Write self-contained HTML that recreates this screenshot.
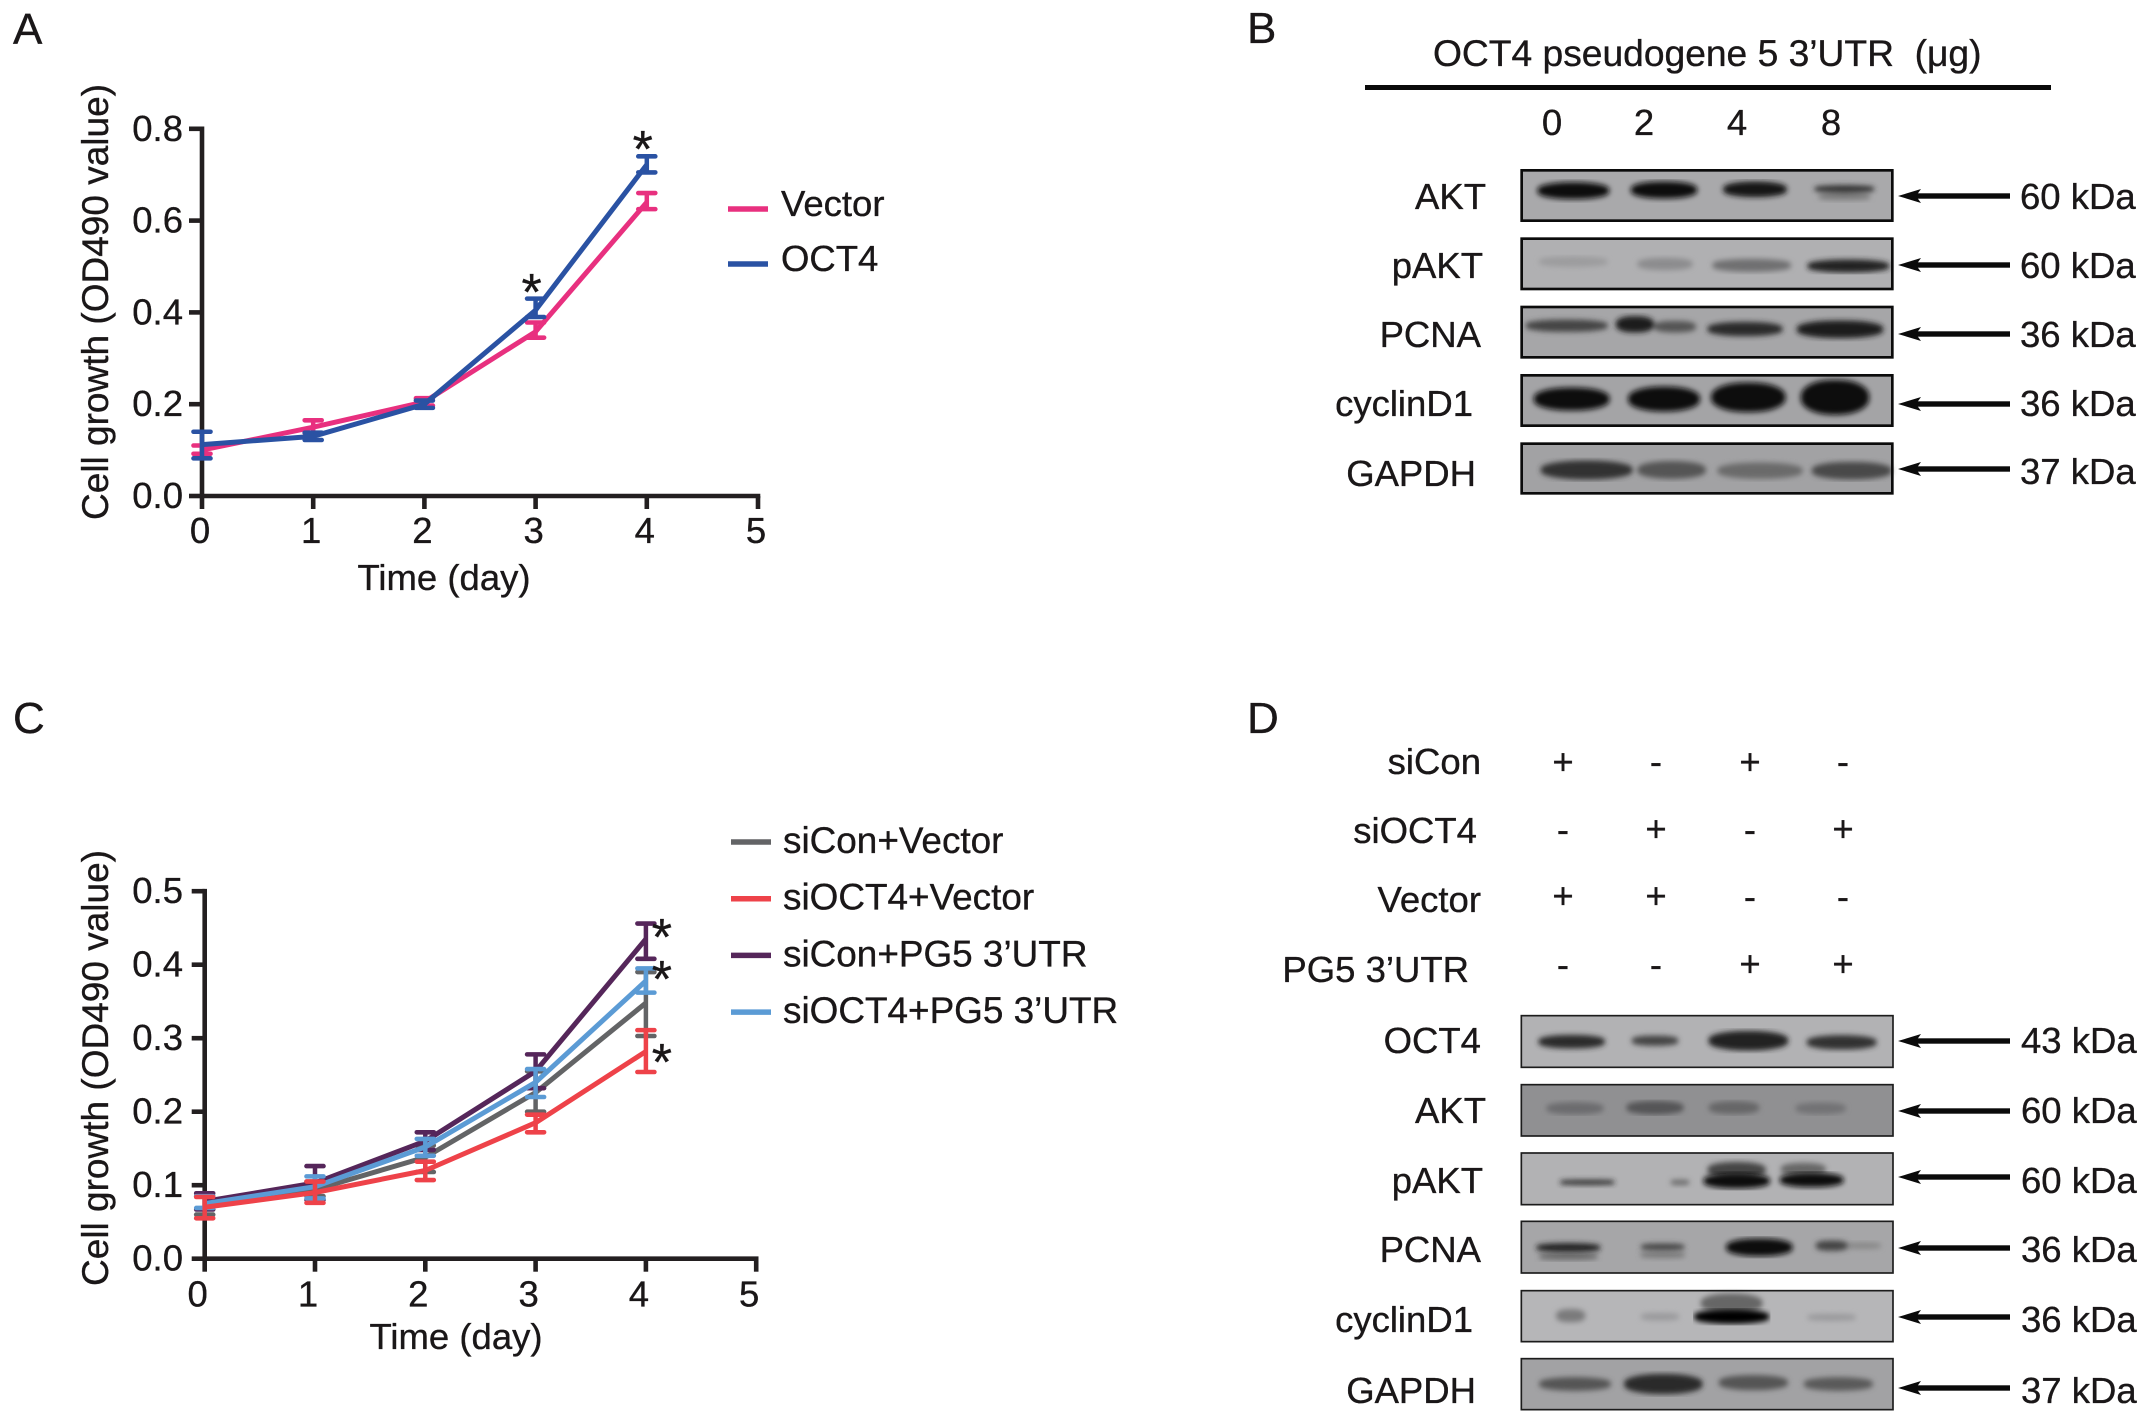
<!DOCTYPE html>
<html lang="en">
<head>
<meta charset="utf-8">
<title>Cell growth and western blot figure</title>
<style>
html,body{margin:0;padding:0;background:#fff;}
svg{display:block;}
text{font-family:"Liberation Sans",Arial,sans-serif;font-size:36.5px;fill:#1a1718;stroke:#1a1718;stroke-width:.35px;}
.panel{font-size:44px;}
.end{text-anchor:end;}
.mid{text-anchor:middle;}
.frame{fill:none;stroke:#0b0b0b;stroke-width:8;}
.frame-thin{fill:none;stroke:#1c1c1c;stroke-width:5;}
</style>
</head>
<body>
<svg id="fig" xmlns="http://www.w3.org/2000/svg" width="2150" height="1424" viewBox="0 0 2150 1424">
<defs>
<filter id="soft" x="-5%" y="-25%" width="110%" height="150%"><feMorphology operator="dilate" radius="8 5"/><feGaussianBlur stdDeviation="8"/></filter>
<g id="arrow"><rect x="1912" y="-2.7" width="98" height="5.4" fill="#0a0a0a"/><polygon points="1898,0 1921,-7 1916,0 1921,7" fill="#0a0a0a"/></g>
</defs>

<text class="panel" x="13" y="44">A</text>
<text class="panel" x="1247" y="43">B</text>
<text class="panel" x="13" y="733">C</text>
<text class="panel" x="1247" y="733">D</text>

<g id="chart-a"></g>
<g id="chart-c"></g>

<!-- Panel B -->
<g>
<text x="1433" y="66" style="font-size:37.2px" xml:space="preserve">OCT4 pseudogene 5 3’UTR  (μg)</text>
<rect x="1365" y="85" width="686" height="5" fill="#0a0a0a"/>
<text class="mid" x="1552" y="135">0</text>
<text class="mid" x="1644" y="135">2</text>
<text class="mid" x="1737" y="135">4</text>
<text class="mid" x="1831" y="135">8</text>

<text class="end" x="1486" y="209">AKT</text>
<text class="end" x="1483" y="278">pAKT</text>
<text class="end" x="1481" y="347">PCNA</text>
<text class="end" x="1473" y="416">cyclinD1</text>
<text class="end" x="1476" y="486">GAPDH</text>

<g transform="translate(1510,160) scale(.33333)">
 <g>
  <rect x="35" y="31" width="1112" height="151" fill="#a9a9ab"/>
  <g filter="url(#soft)"><ellipse cx="190" cy="92" rx="100" ry="21" fill="#0e0e0e"/><ellipse cx="462" cy="90" rx="92" ry="21" fill="#111"/><ellipse cx="735" cy="88" rx="88" ry="19" fill="#151515"/><ellipse cx="1003" cy="87" rx="82" ry="7" fill="#333"/><ellipse cx="1003" cy="110" rx="70" ry="6" fill="#7a7a7a"/></g>
  <rect class="frame" x="35" y="31" width="1112" height="151"/>
 </g>
 <g>
  <rect x="35" y="236" width="1112" height="151" fill="#b0b0b2"/>
  <g filter="url(#soft)"><ellipse cx="190" cy="305" rx="95" ry="11" fill="#9c9c9e"/><ellipse cx="465" cy="312" rx="75" ry="14" fill="#8c8c8e"/><ellipse cx="725" cy="316" rx="110" ry="15" fill="#6f6f71"/><ellipse cx="1015" cy="318" rx="115" ry="15" fill="#202020"/></g>
  <rect class="frame" x="35" y="236" width="1112" height="151"/>
 </g>
 <g>
  <rect x="35" y="441" width="1112" height="151" fill="#a6a6a8"/>
  <g filter="url(#soft)"><ellipse cx="170" cy="497" rx="115" ry="14" fill="#444"/><ellipse cx="495" cy="500" rx="55" ry="13" fill="#555"/><ellipse cx="375" cy="493" rx="50" ry="20" fill="#1e1e1e"/><ellipse cx="705" cy="507" rx="105" ry="17" fill="#2a2a2a"/><ellipse cx="990" cy="508" rx="122" ry="22" fill="#1a1a1a"/></g>
  <rect class="frame" x="35" y="441" width="1112" height="151"/>
 </g>
 <g>
  <rect x="35" y="646" width="1112" height="151" fill="#a4a4a6"/>
  <g filter="url(#soft)"><ellipse cx="185" cy="717" rx="106" ry="30" fill="#0c0c0c"/><ellipse cx="462" cy="717" rx="100" ry="33" fill="#0c0c0c"/><ellipse cx="715" cy="712" rx="104" ry="40" fill="#0a0a0a"/><ellipse cx="975" cy="712" rx="95" ry="48" fill="#0a0a0a"/></g>
  <rect class="frame" x="35" y="646" width="1112" height="151"/>
 </g>
 <g>
  <rect x="35" y="851" width="1112" height="149" fill="#a2a2a4"/>
  <g filter="url(#soft)"><ellipse cx="230" cy="930" rx="130" ry="24" fill="#333"/><ellipse cx="485" cy="930" rx="95" ry="22" fill="#555"/><ellipse cx="750" cy="932" rx="120" ry="20" fill="#6a6a6a"/><ellipse cx="1025" cy="932" rx="112" ry="22" fill="#4a4a4a"/></g>
  <rect class="frame" x="35" y="851" width="1112" height="149"/>
 </g>
</g>

<use href="#arrow" y="196"/>
<use href="#arrow" y="265"/>
<use href="#arrow" y="334"/>
<use href="#arrow" y="404"/>
<use href="#arrow" y="469"/>

<text x="2020" y="209">60 kDa</text>
<text x="2020" y="278">60 kDa</text>
<text x="2020" y="347">36 kDa</text>
<text x="2020" y="416">36 kDa</text>
<text x="2020" y="484">37 kDa</text>
</g>

<!-- Panel D -->
<g>
<text class="end" x="1481" y="774">siCon</text>
<text class="end" x="1477" y="843">siOCT4</text>
<text class="end" x="1481" y="912">Vector</text>
<text class="end" x="1469" y="982">PG5 3’UTR</text>

<g class="mid" text-anchor="middle">
<text x="1563" y="774">+</text><text x="1656" y="774">-</text><text x="1750" y="774">+</text><text x="1843" y="774">-</text>
<text x="1563" y="842">-</text><text x="1656" y="841">+</text><text x="1750" y="842">-</text><text x="1843" y="841">+</text>
<text x="1563" y="908">+</text><text x="1656" y="908">+</text><text x="1750" y="909">-</text><text x="1843" y="909">-</text>
<text x="1563" y="977">-</text><text x="1656" y="977">-</text><text x="1750" y="976">+</text><text x="1843" y="976">+</text>
</g>

<text class="end" x="1481" y="1053">OCT4</text>
<text class="end" x="1486" y="1123">AKT</text>
<text class="end" x="1483" y="1193">pAKT</text>
<text class="end" x="1481" y="1262">PCNA</text>
<text class="end" x="1473" y="1332">cyclinD1</text>
<text class="end" x="1476" y="1403">GAPDH</text>

<g transform="translate(1510,1010) scale(.33333)">
 <g>
  <rect x="34" y="17" width="1115" height="155" fill="#b2b2b4"/>
  <g filter="url(#soft)"><ellipse cx="185" cy="95" rx="92" ry="16" fill="#2a2a2a"/><ellipse cx="435" cy="92" rx="62" ry="11" fill="#444"/><ellipse cx="715" cy="92" rx="112" ry="25" fill="#232323"/><ellipse cx="995" cy="97" rx="97" ry="17" fill="#333"/></g>
  <rect class="frame-thin" x="34" y="17" width="1115" height="155"/>
 </g>
 <g>
  <rect x="34" y="224" width="1115" height="154" fill="#909092"/>
  <g filter="url(#soft)"><ellipse cx="195" cy="295" rx="78" ry="14" fill="#6c6c6e"/><ellipse cx="435" cy="293" rx="78" ry="16" fill="#545456"/><ellipse cx="672" cy="293" rx="68" ry="15" fill="#666668"/><ellipse cx="932" cy="295" rx="68" ry="13" fill="#727274"/></g>
  <rect class="frame-thin" x="34" y="224" width="1115" height="154"/>
 </g>
 <g>
  <rect x="34" y="429" width="1115" height="155" fill="#b2b2b4"/>
  <g filter="url(#soft)"><ellipse cx="232" cy="517" rx="75" ry="3" fill="#2c2c2c"/><ellipse cx="510" cy="517" rx="20" ry="3" fill="#666"/><ellipse cx="680" cy="480" rx="80" ry="20" fill="#444"/><ellipse cx="880" cy="478" rx="60" ry="15" fill="#666"/></g>
  <g filter="url(#soft)"><ellipse cx="680" cy="513" rx="92" ry="18" fill="#0e0e0e"/><ellipse cx="905" cy="510" rx="88" ry="17" fill="#0f0f0f"/></g>
  <rect class="frame-thin" x="34" y="429" width="1115" height="155"/>
 </g>
 <g>
  <rect x="34" y="634" width="1115" height="155" fill="#a6a6a8"/>
  <g filter="url(#soft)"><ellipse cx="175" cy="740" rx="80" ry="5" fill="#666"/><ellipse cx="458" cy="735" rx="60" ry="4" fill="#777"/><ellipse cx="1060" cy="707" rx="45" ry="5" fill="#888"/></g>
  <g filter="url(#soft)"><ellipse cx="175" cy="713" rx="88" ry="9" fill="#202020"/><ellipse cx="458" cy="711" rx="58" ry="6" fill="#444"/><ellipse cx="748" cy="712" rx="92" ry="22" fill="#0d0d0d"/><ellipse cx="965" cy="707" rx="40" ry="11" fill="#444"/></g>
  <rect class="frame-thin" x="34" y="634" width="1115" height="155"/>
 </g>
 <g>
  <rect x="34" y="842" width="1115" height="153" fill="#b6b6b8"/>
  <g filter="url(#soft)"><ellipse cx="182" cy="917" rx="36" ry="15" fill="#7a7a7c"/><ellipse cx="450" cy="920" rx="50" ry="7" fill="#9a9a9c"/><ellipse cx="665" cy="880" rx="85" ry="25" fill="#666"/><ellipse cx="965" cy="922" rx="65" ry="6" fill="#9a9a9c"/></g>
  <g filter="url(#soft)"><ellipse cx="665" cy="920" rx="105" ry="17" fill="#040404"/></g>
  <rect class="frame-thin" x="34" y="842" width="1115" height="153"/>
 </g>
 <g>
  <rect x="34" y="1046" width="1115" height="153" fill="#a2a2a4"/>
  <g filter="url(#soft)"><ellipse cx="195" cy="1122" rx="100" ry="16" fill="#555"/><ellipse cx="460" cy="1122" rx="110" ry="26" fill="#2c2c2c"/><ellipse cx="730" cy="1118" rx="96" ry="18" fill="#555"/><ellipse cx="985" cy="1122" rx="96" ry="16" fill="#5a5a5a"/></g>
  <rect class="frame-thin" x="34" y="1046" width="1115" height="153"/>
 </g>
</g>

<use href="#arrow" y="1041"/>
<use href="#arrow" y="1111"/>
<use href="#arrow" y="1177"/>
<use href="#arrow" y="1248"/>
<use href="#arrow" y="1317"/>
<use href="#arrow" y="1388"/>

<text x="2021" y="1053">43 kDa</text>
<text x="2021" y="1123">60 kDa</text>
<text x="2021" y="1193">60 kDa</text>
<text x="2021" y="1262">36 kDa</text>
<text x="2021" y="1332">36 kDa</text>
<text x="2021" y="1403">37 kDa</text>
</g>
</svg>

<script>
// Shared x axis
const dayTicks = [0, 1, 2, 3, 4, 5];
const measuredDays = [0, 1, 2, 3, 4];

// Chart A data
const aYTicks = [0.0, 0.2, 0.4, 0.6, 0.8];
const vectorValues = [0.100, 0.150, 0.205, 0.358, 0.640];
const vectorUpper = [0.110, 0.165, 0.213, 0.378, 0.660];
const vectorLower = [0.092, 0.137, 0.197, 0.345, 0.625];
const oct4Values = [0.112, 0.130, 0.200, 0.405, 0.722];
const oct4Upper = [0.140, 0.138, 0.208, 0.430, 0.740];
const oct4Lower = [0.082, 0.122, 0.192, 0.390, 0.705];
const aStarDays = [3, 4];
const aStarLevels = [0.460, 0.771];

// Chart C data
const cYTicks = [0.0, 0.1, 0.2, 0.3, 0.4, 0.5];
const siConVectorValues = [0.073, 0.094, 0.138, 0.226, 0.348];
const siConVectorUpper = [0.085, 0.105, 0.154, 0.255, 0.390];
const siConVectorLower = [0.060, 0.085, 0.118, 0.200, 0.303];
const siConPgValues = [0.078, 0.103, 0.160, 0.255, 0.435];
const siConPgUpper = [0.089, 0.126, 0.172, 0.278, 0.456];
const siConPgLower = [0.067, 0.080, 0.148, 0.232, 0.408];
const siOctPgValues = [0.075, 0.098, 0.152, 0.240, 0.378];
const siOctPgUpper = [0.085, 0.112, 0.163, 0.258, 0.395];
const siOctPgLower = [0.069, 0.082, 0.140, 0.220, 0.362];
const siOctVectorValues = [0.070, 0.090, 0.120, 0.185, 0.282];
const siOctVectorUpper = [0.084, 0.105, 0.132, 0.196, 0.311];
const siOctVectorLower = [0.055, 0.076, 0.107, 0.172, 0.254];
const cStarDays = [4, 4, 4];
const cStarLevels = [0.447, 0.390, 0.277];

const SVGNS = 'http://www.w3.org/2000/svg';
function mk(parent, tag, attrs, text) {
  const el = document.createElementNS(SVGNS, tag);
  for (const k in attrs) el.setAttribute(k, attrs[k]);
  if (text !== undefined) el.textContent = text;
  parent.appendChild(el);
  return el;
}

function drawChart(root, cfg) {
  const xs = d => cfg.x0 + d * cfg.xStep;
  const ys = v => cfg.y0 - v * cfg.yUnit;
  const axisColor = '#231f20';
  const axisWidth = 4.6;

  const axes = mk(root, 'g', {});
  
  

  const yAxis = mk(axes, 'line', {x1: cfg.x0, x2: cfg.x0, y1: ys(cfg.yTicks[cfg.yTicks.length - 1]) - 2.3, y2: cfg.y0 + 2, stroke: axisColor, 'stroke-width': axisWidth});
  
  

  const xAxis = mk(axes, 'line', {x1: cfg.x0 - 2, x2: xs(dayTicks[dayTicks.length - 1]) + 2.3, y1: cfg.y0, y2: cfg.y0, stroke: axisColor, 'stroke-width': axisWidth});
  
  

  cfg.yTicks.forEach(v => {
    const t = mk(axes, 'line', {x1: cfg.x0 - 13, x2: cfg.x0, y1: ys(v), y2: ys(v), stroke: axisColor, 'stroke-width': axisWidth});
    
    
    const l = mk(axes, 'text', {x: 183, y: ys(v) + 12, 'text-anchor': 'end'}, v.toFixed(1));
    
    
  });
  dayTicks.forEach(d => {
    const t = mk(axes, 'line', {x1: xs(d), x2: xs(d), y1: cfg.y0, y2: cfg.y0 + 13, stroke: axisColor, 'stroke-width': axisWidth});
    
    
    const l = mk(axes, 'text', {x: xs(d) + cfg.xLabelShift, y: cfg.y0 + cfg.xLabelDrop, 'text-anchor': 'middle'}, String(d));
    
    
  });

  const xt = mk(root, 'text', {x: cfg.xTitleX, y: cfg.xTitleY, 'text-anchor': 'middle'}, 'Time (day)');
  
  

  const yt = mk(root, 'text', {transform: 'translate(108,' + cfg.yTitleY + ') rotate(-90)', 'text-anchor': 'middle', style: 'font-size:37px'}, 'Cell growth (OD490 value)');
  
  

  cfg.series.forEach(s => {
    const g = mk(root, 'g', {});
    
    
    measuredDays.forEach((d, i) => {
      const x = xs(d);
      const stem = mk(g, 'line', {x1: x, x2: x, y1: ys(s.upper[i]), y2: ys(s.lower[i]), stroke: s.color, 'stroke-width': 4.5});
      
      
      [s.upper[i], s.lower[i]].forEach(v => {
        const cap = mk(g, 'line', {x1: x - 8.5, x2: x + 8.5, y1: ys(v), y2: ys(v), stroke: s.color, 'stroke-width': 4.6, 'stroke-linecap': 'round'});
        
        
      });
    });
    const pts = measuredDays.map((d, i) => xs(d) + ',' + ys(s.values[i])).join(' ');
    const line = mk(g, 'polyline', {points: pts, fill: 'none', stroke: s.color, 'stroke-width': 5, 'stroke-linejoin': 'round'});
    
    
  });

  cfg.starLevels.forEach((v, i) => {
    const s = mk(root, 'text', {x: xs(cfg.starDays[i]) + cfg.starShift, y: ys(v) + 25, 'text-anchor': 'middle', style: 'font-size:52px'}, '*');
    
    
  });

  cfg.series.forEach(s => {
    const y = cfg.legendY + s.legendSlot * cfg.legendStep;
    const g = mk(root, 'g', {});
    
    
    const sw = mk(g, 'line', {x1: cfg.legendX, x2: cfg.legendX + 40, y1: y, y2: y, stroke: s.color, 'stroke-width': 5.5});
    
    
    const l = mk(g, 'text', {x: cfg.legendX + cfg.legendTextGap, y: y + cfg.legendTextDrop, style: 'font-size:' + cfg.legendFont + 'px'}, s.label);
    
    
  });
}

drawChart(document.getElementById('chart-a'), {
  x0: 202, xStep: 111.2, y0: 496, yUnit: 459, yTicks: aYTicks,
  xLabelShift: -2, xLabelDrop: 47, xTitleX: 444, xTitleY: 590, yTitleY: 302,
  starDays: aStarDays, starLevels: aStarLevels, starShift: -4,
  legendX: 728, legendY: 209, legendStep: 55, legendTextGap: 53, legendTextDrop: 7, legendFont: 36.5,
  series: [
    {key: 'vector', label: 'Vector', color: '#e8307f', legendSlot: 0, values: vectorValues, upper: vectorUpper, lower: vectorLower},
    {key: 'oct4', label: 'OCT4', color: '#2a52a3', legendSlot: 1, values: oct4Values, upper: oct4Upper, lower: oct4Lower}
  ]
});

drawChart(document.getElementById('chart-c'), {
  x0: 204.7, xStep: 110.3, y0: 1258.7, yUnit: 735, yTicks: cYTicks,
  xLabelShift: -7, xLabelDrop: 48, xTitleX: 456, xTitleY: 1349, yTitleY: 1068,
  starDays: cStarDays, starLevels: cStarLevels, starShift: 16,
  legendX: 731, legendY: 842, legendStep: 56.7, legendTextGap: 52, legendTextDrop: 11, legendFont: 36.9,
  series: [
    {key: 'sicon-vector', label: 'siCon+Vector', color: '#636466', legendSlot: 0, values: siConVectorValues, upper: siConVectorUpper, lower: siConVectorLower},
    {key: 'sicon-pg5', label: 'siCon+PG5 3’UTR', color: '#55265a', legendSlot: 2, values: siConPgValues, upper: siConPgUpper, lower: siConPgLower},
    {key: 'sioct4-pg5', label: 'siOCT4+PG5 3’UTR', color: '#5b9bd5', legendSlot: 3, values: siOctPgValues, upper: siOctPgUpper, lower: siOctPgLower},
    {key: 'sioct4-vector', label: 'siOCT4+Vector', color: '#ee4249', legendSlot: 1, values: siOctVectorValues, upper: siOctVectorUpper, lower: siOctVectorLower}
  ]
});
</script>
</body>
</html>
